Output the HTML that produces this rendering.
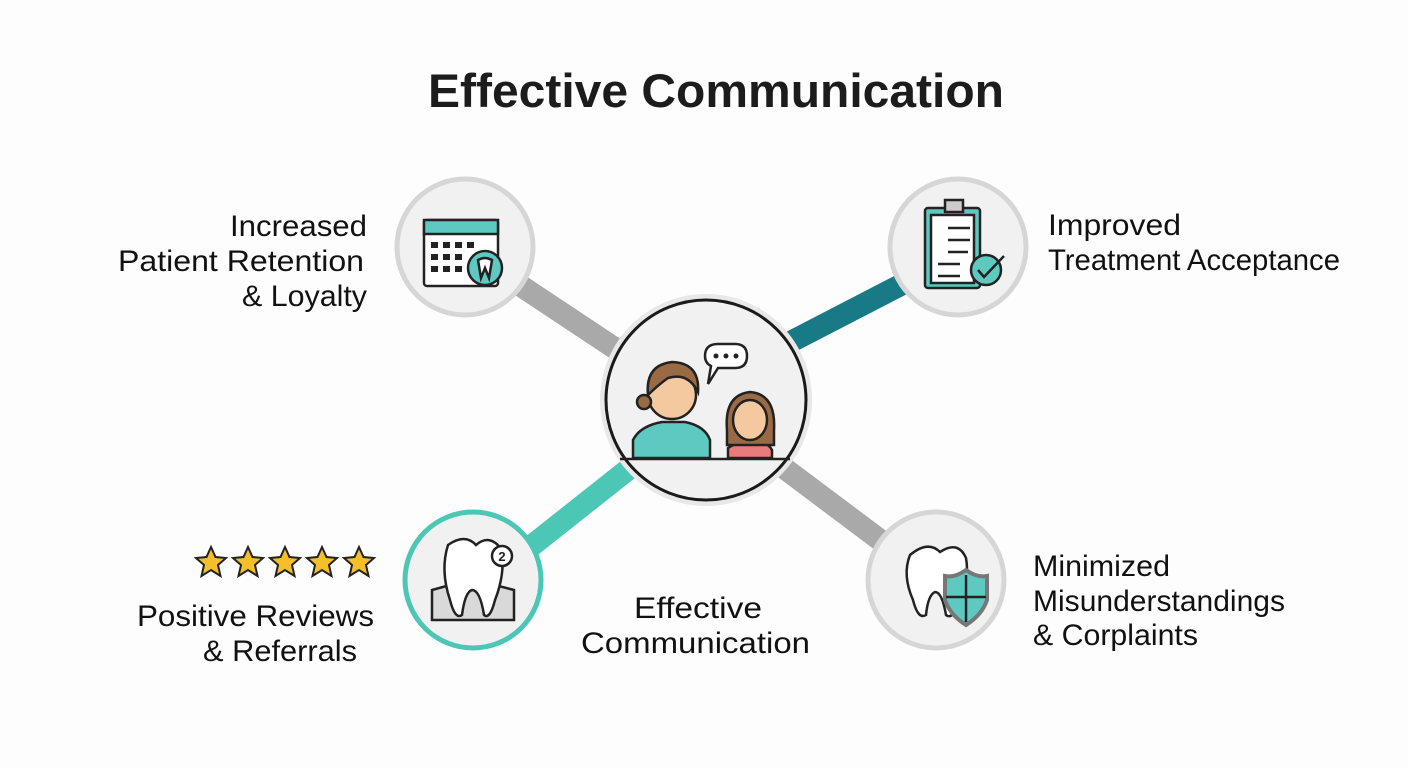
<!DOCTYPE html>
<html><head><style>
html,body{margin:0;padding:0;background:#fff;}
body{width:1408px;height:768px;overflow:hidden;font-family:"Liberation Sans",sans-serif;}
</style></head><body>
<svg width="1408" height="768" viewBox="0 0 1408 768" xmlns="http://www.w3.org/2000/svg" font-family="Liberation Sans, sans-serif">
<rect width="1408" height="768" fill="#fdfdfd"/>
<text x="428" y="107" font-size="47" font-weight="bold" fill="#1c1c1c" textLength="576" lengthAdjust="spacingAndGlyphs">Effective Communication</text>
<!-- connectors -->
<line x1="500" y1="272" x2="640" y2="365" stroke="#a9a9a9" stroke-width="22"/>
<line x1="920" y1="275" x2="775" y2="350" stroke="#177a85" stroke-width="22"/>
<line x1="520" y1="555" x2="640" y2="460" stroke="#4cc7b5" stroke-width="22"/>
<line x1="780" y1="465" x2="900" y2="555" stroke="#a9a9a9" stroke-width="22"/>
<!-- center -->
<circle cx="706" cy="400" r="106" fill="#e8e8e8"/>
<circle cx="706" cy="400" r="100" fill="#f1f1f1" stroke="#1a1a1a" stroke-width="3"/>
<g stroke="#222" stroke-width="2.5">
<path d="M633 458 L633 440 Q640 426 662 422 L685 422 Q705 426 710 440 L710 458 Z" fill="#5ec9c0"/>
<circle cx="672" cy="395" r="24" fill="#f5c9a0"/>
<path d="M648 395 Q645 365 672 362 Q700 363 698 392 Q688 372 668 378 Q658 385 648 395Z" fill="#9a6a45"/>
<circle cx="644" cy="402" r="7" fill="#9a6a45"/>
<path d="M728 458 L728 448 Q740 440 755 440 Q768 442 772 450 L772 458Z" fill="#e87b7b"/>
<path d="M727 430 Q724 395 750 392 Q776 394 774 430 L774 445 L727 445Z" fill="#9a6a45"/>
<ellipse cx="750" cy="420" rx="17" ry="20" fill="#f5c9a0"/>
<path d="M705 356 Q705 344 718 344 L735 344 Q747 344 747 356 Q747 368 735 368 L718 368 L708 384 L711 366 Q705 363 705 356Z" fill="#fff"/>
<line x1="620" y1="459" x2="790" y2="459"/>
</g>
<circle cx="716" cy="356" r="2.5" fill="#222"/><circle cx="726" cy="356" r="2.5" fill="#222"/><circle cx="736" cy="356" r="2.5" fill="#222"/>
<!-- nodes -->
<circle cx="465" cy="247" r="68" fill="#f1f1f1" stroke="#d6d6d6" stroke-width="5"/>
<circle cx="958" cy="247" r="68" fill="#f1f1f1" stroke="#d6d6d6" stroke-width="5"/>
<circle cx="473" cy="580" r="68" fill="#f1f1f1" stroke="#4cc7b5" stroke-width="5"/>
<circle cx="936" cy="580" r="68" fill="#f1f1f1" stroke="#d6d6d6" stroke-width="5"/>
<!-- calendar -->
<g stroke="#222" stroke-width="2.5">
<rect x="424" y="220" width="74" height="66" rx="3" fill="#fff"/>
<rect x="424" y="220" width="74" height="14" fill="#5ec9c0"/>
<circle cx="485" cy="268" r="17" fill="#5ec9c0"/>
<path d="M478 260 Q485 256 492 260 L489 278 L485 268 L481 278Z" fill="#fff"/>
</g>
<g fill="#222"><rect x="431" y="242" width="7" height="6"/><rect x="443" y="242" width="7" height="6"/><rect x="455" y="242" width="7" height="6"/><rect x="467" y="242" width="7" height="6"/><rect x="431" y="254" width="7" height="6"/><rect x="443" y="254" width="7" height="6"/><rect x="455" y="254" width="7" height="6"/><rect x="431" y="266" width="7" height="6"/><rect x="443" y="266" width="7" height="6"/><rect x="455" y="266" width="7" height="6"/></g>
<!-- clipboard -->
<g stroke="#222" stroke-width="2.5">
<rect x="925" y="208" width="55" height="80" rx="3" fill="#5ec9c0"/>
<rect x="931" y="215" width="43" height="68" fill="#fff"/>
<rect x="945" y="200" width="18" height="12" fill="#ccc"/>
<line x1="948" y1="228" x2="970" y2="228"/><line x1="948" y1="240" x2="970" y2="240"/><line x1="948" y1="252" x2="968" y2="252"/><line x1="938" y1="264" x2="960" y2="264"/><line x1="938" y1="276" x2="960" y2="276"/>
<circle cx="986" cy="270" r="15" fill="#5ec9c0"/>
<path d="M978 270 L984 277 L1004 256" fill="none"/>
</g>
<!-- tooth BL -->
<g stroke="#222" stroke-width="2.5">
<path d="M432 620 L432 590 L450 585 L495 585 L514 590 L514 620Z" fill="#d9d9d9"/>
<path d="M448 545 Q465 533 476 545 Q490 533 502 550 Q505 575 495 600 Q490 620 484 615 Q480 590 472 590 Q465 592 462 615 Q455 620 450 600 Q440 570 448 545Z" fill="#fff"/>
<circle cx="502" cy="556" r="10" fill="#fff"/>
</g>
<text x="502" y="561" text-anchor="middle" font-size="13" font-weight="bold" fill="#222">2</text>
<!-- tooth BR -->
<g stroke="#222" stroke-width="2.5">
<path d="M910 555 Q928 540 940 552 Q958 540 966 558 Q970 580 958 605 Q952 620 946 615 Q942 592 935 592 Q928 595 926 615 Q918 620 913 600 Q902 575 910 555Z" fill="#fff"/>
<path d="M966 570 Q955 578 945 576 L945 600 Q950 615 966 625 Q982 615 987 600 L987 576 Q977 578 966 570Z" fill="#5ec9c0" stroke="#777" stroke-width="4"/>
<line x1="966" y1="575" x2="966" y2="622"/><line x1="946" y1="597" x2="986" y2="597"/>
</g>
<!-- stars -->
<g fill="#f5bf2a" stroke="#222" stroke-width="2">
<path id="s" d="M211 547 L215.5 557 L226 558 L218 565 L220.5 576 L211 570 L201.5 576 L204 565 L196 558 L206.5 557Z"/>
<use href="#s" x="37"/><use href="#s" x="74"/><use href="#s" x="111"/><use href="#s" x="148"/>
</g>
<!-- labels -->
<g font-size="30" fill="#111" lengthAdjust="spacingAndGlyphs">
<text x="230" y="236" textLength="137" lengthAdjust="spacingAndGlyphs">Increased</text>
<text x="118" y="271" textLength="246" lengthAdjust="spacingAndGlyphs">Patient Retention</text>
<text x="242" y="306" textLength="125" lengthAdjust="spacingAndGlyphs">&amp; Loyalty</text>
<text x="1048" y="235" textLength="133" lengthAdjust="spacingAndGlyphs">Improved</text>
<text x="1048" y="270" textLength="292" lengthAdjust="spacingAndGlyphs">Treatment Acceptance</text>
<text x="137" y="626" textLength="237" lengthAdjust="spacingAndGlyphs">Positive Reviews</text>
<text x="203" y="661" textLength="154" lengthAdjust="spacingAndGlyphs">&amp; Referrals</text>
<text x="634" y="618" textLength="128" lengthAdjust="spacingAndGlyphs">Effective</text>
<text x="581" y="653" textLength="229" lengthAdjust="spacingAndGlyphs">Communication</text>
<text x="1033" y="576" textLength="137" lengthAdjust="spacingAndGlyphs">Minimized</text>
<text x="1033" y="611" textLength="252" lengthAdjust="spacingAndGlyphs">Misunderstandings</text>
<text x="1033" y="645" textLength="165" lengthAdjust="spacingAndGlyphs">&amp; Corplaints</text>
</g>
</svg>
</body></html>
